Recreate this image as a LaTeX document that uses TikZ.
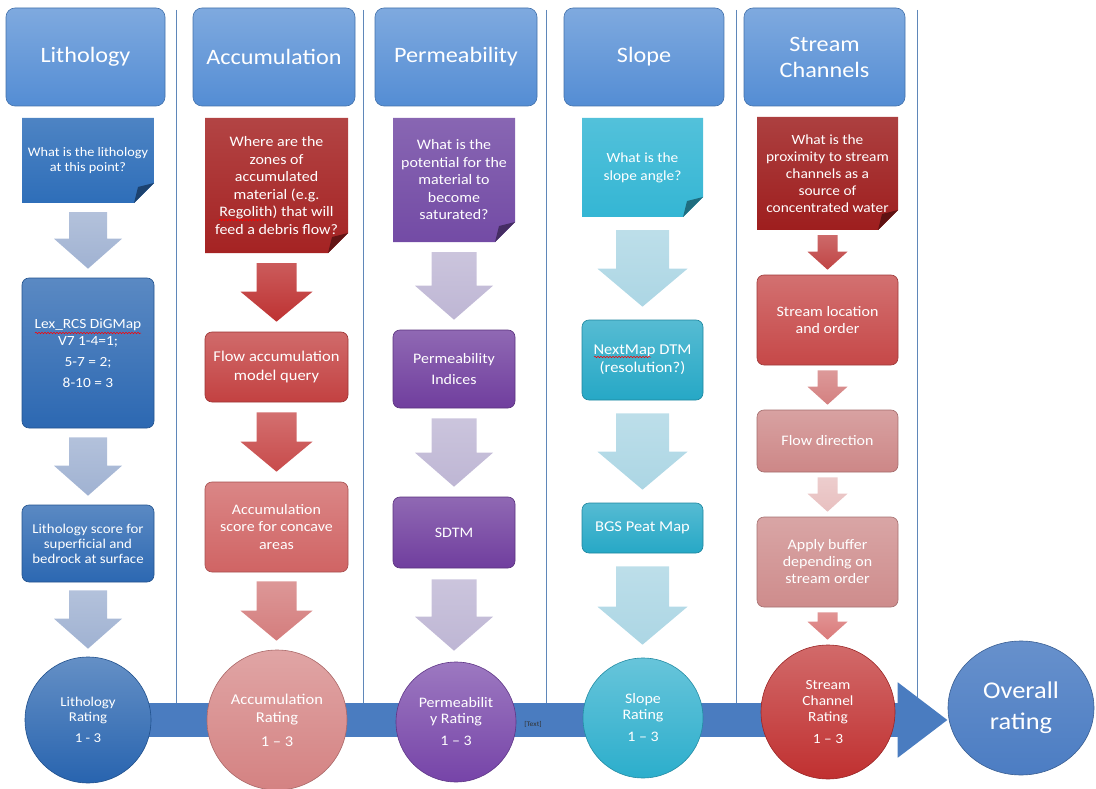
\documentclass[tikz,border=0pt]{standalone}
\usepackage{fontspec}
\setmainfont{Carlito}[FakeStretch=1.1]
\usetikzlibrary{arrows.meta,backgrounds,calc,shapes.geometric,decorations.pathmorphing}
\newcommand\fs[2]{\fontsize{#1}{#2}\selectfont}
\definecolor{hdrC}{RGB}{84,141,212}
\definecolor{lithQ}{RGB}{46,110,185}
\definecolor{lithB}{RGB}{44,104,178}
\definecolor{lithA}{RGB}{160,178,210}
\definecolor{lithC}{RGB}{40,100,175}
\definecolor{accQ}{RGB}{165,35,35}
\definecolor{accA1}{RGB}{190,50,50}
\definecolor{accB1}{RGB}{195,65,65}
\definecolor{accA2}{RGB}{200,75,75}
\definecolor{accB2}{RGB}{208,100,100}
\definecolor{accA3}{RGB}{212,125,125}
\definecolor{accC}{RGB}{212,130,130}
\definecolor{permQ}{RGB}{115,75,165}
\definecolor{permA}{RGB}{190,182,212}
\definecolor{permB}{RGB}{112,62,158}
\definecolor{permC}{RGB}{118,68,168}
\definecolor{slopeQ}{RGB}{52,182,212}
\definecolor{slopeA}{RGB}{172,214,228}
\definecolor{slopeB}{RGB}{38,168,198}
\definecolor{slopeC}{RGB}{44,174,204}
\definecolor{strQ}{RGB}{158,30,30}
\definecolor{strA1}{RGB}{192,68,68}
\definecolor{strB1}{RGB}{198,72,72}
\definecolor{strA2}{RGB}{212,128,128}
\definecolor{strB2}{RGB}{205,135,135}
\definecolor{strA3}{RGB}{232,192,192}
\definecolor{strB3}{RGB}{206,140,140}
\definecolor{strA4}{RGB}{218,122,122}
\definecolor{strC}{RGB}{192,48,48}
\definecolor{ovC}{RGB}{76,125,195}
\definecolor{barC}{RGB}{74,124,192}
\definecolor{sepC}{RGB}{95,135,185}
% question box: name, cx, cy, w, h, colour, font size, leading, text
\newcommand\qbox[9]{%
  \path[top color=#6!85!white, bottom color=#6]
    (#2-#4/2,#3-#5/2) -- (#2+#4/2,#3-#5/2) -- (#2+#4/2,#3+#5/2-20) --
    (#2+#4/2-20,#3+#5/2) -- (#2-#4/2,#3+#5/2) -- cycle;
  \fill[#6!60!black] (#2+#4/2,#3+#5/2-20) -- (#2+#4/2-20,#3+#5/2) -- (#2+#4/2-16,#3+#5/2-16) -- cycle;
  \node[qtext, minimum width=#4pt, minimum height=#5pt, font=\fs{#7}{#8}] (#1) at (#2,#3) {#9};}
% block arrow: from, to, shaft, head, head length, gap, colour
\newcommand\barrow[7]{%
  \path[top color=#7!80!white, bottom color=#7]
    let \p1=(#1.south), \p2=(#2.north) in
    (\x1-#3/2, \y1-#6) -- (\x1+#3/2, \y1-#6) -- (\x1+#3/2, \y2+#6+#5) --
    (\x1+#4/2, \y2+#6+#5) -- (\x1, \y2+#6) -- (\x1-#4/2, \y2+#6+#5) --
    (\x1-#3/2, \y2+#6+#5) -- cycle;}
\tikzset{
  hdr/.style={rounded corners=9pt, top color=hdrC!75!white, bottom color=hdrC,
    draw=hdrC!80!black, line width=0.6pt, text=white, align=center,
    font=\fs{22}{26}, inner sep=0pt, minimum height=98pt},
  proc/.style={rounded corners=7pt, top color=#1!78!white, bottom color=#1,
    draw=#1!80!black, line width=0.6pt, text=white, align=center, inner sep=2pt},
  qtext/.style={text=white, align=center, inner sep=0pt},
  circ/.style={circle, inner sep=0pt, top color=#1!72!white, bottom color=#1,
    draw=#1!80!black, line width=0.6pt, text=white, align=center},
  sepline/.style={sepC, line width=0.8pt},
  spell/.style={red, line width=0.5pt, decorate, decoration={snake, amplitude=0.8pt, segment length=3pt}}
}
\begin{document}
\begin{tikzpicture}[x=1pt,y=-1pt]
\useasboundingbox (0,0) rectangle (1096,789);
% headers
\node[hdr, minimum width=159pt] (h1) at (85.5,57) {Lithology};
\node[hdr, minimum width=162pt] (h2) at (274,57) {Accumulation};
\node[hdr, minimum width=162pt] (h3) at (456,57) {Permeability};
\node[hdr, minimum width=160pt] (h4) at (644,57) {Slope};
\node[hdr, minimum width=161pt] (h5) at (824.5,57) {Stream\\Channels};
% Lithology column
\qbox{lq}{88}{160.5}{132}{85}{lithQ}{13}{15}{What is the lithology\\at this point?}
\node[proc=lithB, minimum width=132pt, minimum height=150pt, font=\fs{14}{17}] (lex) at (88,353)
  {Lex\_RCS DiGMap\\V7 1-4=1;\\[4pt]5-7 = 2;\\[4pt]8-10 = 3};
\node[proc=lithB, minimum width=132pt, minimum height=77pt, font=\fs{13.5}{15}] (ls) at (88,543.5)
  {Lithology score for\\superficial and\\bedrock at surface};
\node[circ=lithC, minimum size=126pt, font=\fs{13.5}{15}] (lc) at (88,720) {Lithology\\Rating\\[6pt]1 - 3};
% Accumulation column
\qbox{aq}{276.5}{185.5}{143}{135}{accQ}{14.5}{17.5}{Where are the\\zones of\\accumulated\\material (e.g.\\Regolith) that will\\feed a debris flow?}
\node[proc=accB1, minimum width=143pt, minimum height=70pt, font=\fs{15}{18}] (af) at (276.5,367)
  {Flow accumulation\\model query};
\node[proc=accB2, minimum width=143pt, minimum height=90pt, font=\fs{14.5}{17.5}] (as) at (276.5,527)
  {Accumulation\\score for concave\\areas};
\node[circ=accC, minimum size=140pt, font=\fs{15}{18}] (ac) at (277,720) {Accumulation\\Rating\\[6pt]1 -- 3};
% Permeability column
\qbox{pq}{454}{180}{122}{124}{permQ}{14.5}{17.5}{What is the\\potential for the\\material to\\become\\saturated?}
\node[proc=permB, minimum width=122pt, minimum height=78pt, font=\fs{14.5}{21}] (pi) at (454,369)
  {Permeability\\Indices};
\node[proc=permB, minimum width=122pt, minimum height=71pt, font=\fs{14.5}{17}] (ps) at (454,532.5) {SDTM};
\node[circ=permC, minimum size=120pt, font=\fs{14.5}{16}] (pc) at (456,722) {Permeabilit\\y Rating\\[6pt]1 -- 3};
% Slope column
\qbox{sq}{642.5}{167.5}{121}{99}{slopeQ}{14}{18}{What is the\\slope angle?}
\node[proc=slopeB, minimum width=121pt, minimum height=80pt, font=\fs{15}{18}] (sn) at (642.5,360)
  {NextMap DTM\\(resolution?)};
\node[proc=slopeB, minimum width=121pt, minimum height=50pt, font=\fs{15}{18}] (sb) at (642.5,528) {BGS Peat Map};
\node[circ=slopeC, minimum size=120pt, font=\fs{14.5}{16}] (sc) at (643,718) {Slope\\Rating\\[6pt]1 -- 3};
% Stream Channels column
\qbox{tq}{827.5}{173.5}{141}{113}{strQ}{14}{17}{What is the\\proximity to stream\\channels as a\\source of\\concentrated water}
\node[proc=strB1, minimum width=141pt, minimum height=90pt, font=\fs{14.5}{17}] (tl) at (827.5,320)
  {Stream location\\and order};
\node[proc=strB2, minimum width=141pt, minimum height=62pt, font=\fs{14.5}{17}] (tf) at (827.5,441) {Flow direction};
\node[proc=strB3, minimum width=141pt, minimum height=90pt, font=\fs{14.5}{17}] (tb) at (827.5,562)
  {Apply buffer\\depending on\\stream order};
\node[circ=strC, minimum size=134pt, font=\fs{14}{16}] (tc) at (828,712) {Stream\\Channel\\Rating\\[6pt]1 -- 3};
% Overall
\node[ellipse, inner sep=0pt, minimum width=146pt, minimum height=134pt, top color=ovC!85!white,
  bottom color=ovC, draw=ovC!75!black, line width=0.6pt, text=white, align=center,
  font=\fs{24}{31}] (ov) at (1021,708) {Overall\\rating};
\node[font=\fs{7}{8}, text=black!80, inner sep=0pt] (tx) at (533,724) {[Text]};
% spell-check underlines
\draw[spell] (35,333) -- (141,333);
\draw[spell] (219,220) -- (264,220);
\draw[spell] (594,357) -- (651,357);
% block arrows
\barrow{lq}{lex}{38pt}{68pt}{30pt}{9pt}{lithA}
\barrow{lex}{ls}{38pt}{68pt}{30pt}{9pt}{lithA}
\barrow{ls}{lc}{38pt}{68pt}{30pt}{8pt}{lithA}
\barrow{aq}{af}{40pt}{72pt}{30pt}{10pt}{accA1}
\barrow{af}{as}{40pt}{72pt}{30pt}{10pt}{accA2}
\barrow{as}{ac}{40pt}{72pt}{30pt}{9pt}{accA3}
\barrow{pq}{pi}{45pt}{78pt}{34pt}{10pt}{permA}
\barrow{pi}{ps}{45pt}{78pt}{34pt}{10pt}{permA}
\barrow{ps}{pc}{45pt}{78pt}{34pt}{11pt}{permA}
\barrow{sq}{sn}{53pt}{90pt}{38pt}{13pt}{slopeA}
\barrow{sn}{sb}{53pt}{90pt}{38pt}{13pt}{slopeA}
\barrow{sb}{sc}{53pt}{90pt}{38pt}{13pt}{slopeA}
\barrow{tq}{tl}{20pt}{40pt}{18pt}{5pt}{strA1}
\barrow{tl}{tf}{20pt}{40pt}{18pt}{5pt}{strA2}
\barrow{tf}{tb}{20pt}{40pt}{18pt}{5pt}{strA3}
\barrow{tb}{tc}{20pt}{40pt}{18pt}{5pt}{strA4}
% background: separators and main bar
\begin{scope}[on background layer]
  \draw[sepline] (176,10) -- (176,703);
  \draw[sepline] (363,10) -- (363,703);
  \draw[sepline] (546,10) -- (546,703);
  \draw[sepline] (736,10) -- (736,703);
  \draw[sepline] (917,10) -- (917,703);
  \draw[barC, line width=34pt, -{Triangle[width=72pt,length=50pt]}] (lc.center) -- (lc.center -| ov.west);
\end{scope}
\end{tikzpicture}
\end{document}
